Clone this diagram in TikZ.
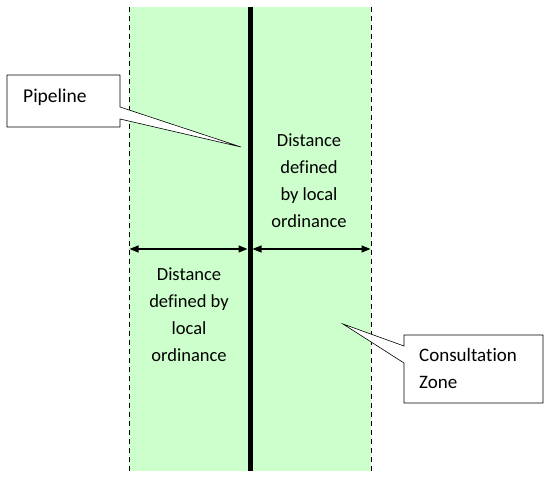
\documentclass[tikz,border=0pt]{standalone}
\usepackage{fontspec}
\setmainfont[Ligatures=NoCommon]{Carlito}
\usetikzlibrary{arrows.meta}
\definecolor{zone}{HTML}{CCFFCC}
\tikzset{
  border/.style={draw=black, line width=0.8pt, dash pattern=on 5pt off 4pt},
  pipe/.style={draw=black, line width=5pt},
  dim/.style={draw=black, line width=1.2pt, {Triangle[length=9pt,width=7pt]}-{Triangle[length=9pt,width=7pt]}},
  callout/.style={draw=black, fill=white, line width=0.6pt},
  lbl/.style={font=\fontsize{18.5}{27}\selectfont, align=center, inner sep=0pt},
  lbll/.style={align=left, inner sep=0pt, anchor=west},
}
\begin{document}
\begin{tikzpicture}[x=1pt,y=-1pt]
\useasboundingbox (0,0) rectangle (549,478);
% zone
\fill[zone] (129,7) rectangle (371,471);
\coordinate (lt) at (129,7); \coordinate (lb) at (129,471);
\coordinate (rt) at (371,7); \coordinate (rb) at (371,471);
\coordinate (pt) at (250,7); \coordinate (pb) at (250,471);
\draw[border] (lt) -- (lb);
\draw[border] (rt) -- (rb);
\draw[pipe] (pt) -- (pb);
% dimension arrows
\coordinate (al) at (129.5,249); \coordinate (am1) at (247.5,249);
\coordinate (am2) at (252.5,249); \coordinate (ar) at (370.5,249);
\draw[dim] (al) -- (am1);
\draw[dim] (am2) -- (ar);
% texts
\node[lbl] (t1) at (309,181) {Distance\\defined\\by local\\ordinance};
\node[lbl] (t2) at (189,315) {Distance\\defined by\\local\\ordinance};
% pipeline callout
\draw[callout] (7,75) -- (120,75) -- (120,107) -- (241,147) -- (120,119) -- (120,127) -- (7,127) -- cycle;
\node[lbll, font=\fontsize{19.5}{27}\selectfont] (pl) at (23,97) {Pipeline};
% consultation callout
\draw[callout] (404,335) -- (543,335) -- (543,403) -- (404,403) -- (404,363) -- (343,324) -- (404,346) -- cycle;
\node[lbll, font=\fontsize{19}{27}\selectfont] (cz) at (419,368) {Consultation\\Zone};
\end{tikzpicture}
\end{document}
